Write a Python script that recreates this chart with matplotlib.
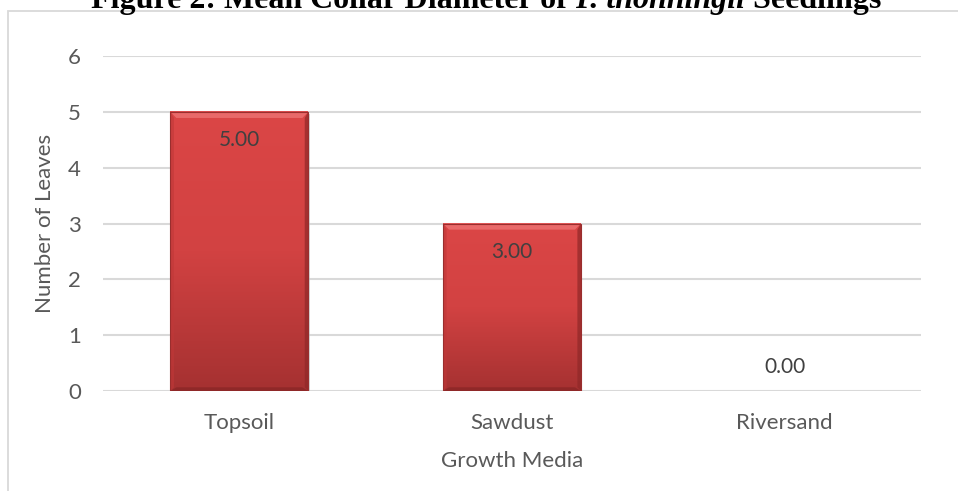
#!/usr/bin/env python3
"""Bar chart of mean leaf number of P. thonningii seedlings per growth medium."""

import matplotlib.pyplot as plt
import numpy as np
from matplotlib.colors import LinearSegmentedColormap
from matplotlib.patches import Polygon, Rectangle

media = ["Topsoil", "Sawdust", "Riversand"]
leaves = [5.00, 3.00, 0.00]
y_ticks = [0, 1, 2, 3, 4, 5, 6]

GRID = "#d9d9d9"
TICK = "#595959"
LABEL = "#404040"
BAR_W = 0.506

plt.rcParams["font.family"] = ["Lato", "DejaVu Sans"]

fig = plt.figure(figsize=(9.58, 4.91), dpi=100)
ax = fig.add_axes([103 / 958, 100 / 491, 818 / 958, 335 / 491])

# chart frame: only its top and left edge fall on the page
fig.patches.append(Rectangle((8 / 958, -0.5), 2.0, 0.5 + 1 - 11 / 491,
                             transform=fig.transFigure, fill=False,
                             edgecolor=GRID, linewidth=1.3))

x = np.arange(len(media))
ax.set_yticks(y_ticks)
ax.set_xticks(x)
ax.set_xticklabels(media)
ax.grid(axis="y", color=GRID, linewidth=1.5, zorder=0)
ax.set_axisbelow(True)
for s in ax.spines.values():
    s.set_visible(False)
ax.tick_params(length=0, labelsize=16, labelcolor=TICK)
ax.tick_params(axis="y", pad=16)
ax.tick_params(axis="x", pad=15.5)
ax.set_xlabel("Growth Media", fontsize=16, color=TICK, labelpad=13)
ax.set_ylabel("Number of Leaves", fontsize=16, color=TICK, labelpad=9)

red = LinearSegmentedColormap.from_list("bar", ["#a53131", "#d24242", "#db4646"])
grad = np.linspace(0, 1, 256).reshape(-1, 1)

# bevel size in data units
bx = 0.022
by = 0.11

for xi, v in zip(x, leaves):
    if v > 0:
        x0, x1 = xi - BAR_W / 2, xi + BAR_W / 2
        # soft shadow
        ax.add_patch(Rectangle((x0 + 0.005, -0.035), BAR_W, v, color="#bbbbbb",
                               alpha=0.6, zorder=2, linewidth=0))
        ax.imshow(grad, extent=(x0, x1, 0, v), origin="lower", cmap=red,
                  aspect="auto", zorder=3)
        # bevel edges
        ax.add_patch(Polygon([(x0, v), (x1, v), (x1 - bx, v - by), (x0 + bx, v - by)],
                             closed=True, color="#ec7070", alpha=0.85, zorder=4, lw=0))
        ax.add_patch(Polygon([(x0, 0), (x1, 0), (x1 - bx, by * 0.6), (x0 + bx, by * 0.6)],
                             closed=True, color="#8a2626", alpha=0.8, zorder=4, lw=0))
        ax.add_patch(Polygon([(x1, 0), (x1, v), (x1 - bx * 0.6, v - by), (x1 - bx * 0.6, by * 0.6)],
                             closed=True, color="#8f2828", alpha=0.7, zorder=4, lw=0))
        ax.add_patch(Polygon([(x0, 0), (x0, v), (x0 + bx * 0.6, v - by), (x0 + bx * 0.6, by * 0.6)],
                             closed=True, color="#c03838", alpha=0.6, zorder=4, lw=0))
        ax.add_patch(Rectangle((x0, 0), BAR_W, v, fill=False, edgecolor="#9a2e2e",
                               linewidth=0.8, zorder=5))
        ax.annotate(f"{v:.2f}", (xi, v), xytext=(0, -20.5), textcoords="offset points",
                    ha="center", va="center", fontsize=15, color=LABEL, zorder=6)
    else:
        ax.annotate(f"{v:.2f}", (xi, v), xytext=(0, 17.5), textcoords="offset points",
                    ha="center", va="center", fontsize=15, color=LABEL, zorder=6)
ax.set_xlim(-0.5, len(media) - 0.5)
ax.set_ylim(y_ticks[0], y_ticks[-1])

# title runs off the top of the page; bold with the species name in bold italic
serif = ["Liberation Serif", "DejaVu Serif"]
pieces = [("Figure 2: Mean Collar Diameter of ", "normal"),
          ("P. thonningii", "italic"),
          (" Seedlings", "normal")]
fig.canvas.draw()
r = fig.canvas.get_renderer()
tmp = [fig.text(0, 0, t, family=serif, weight="bold", style=st, fontsize=23)
       for t, st in pieces]
widths = [t.get_window_extent(r).width for t in tmp]
for t in tmp:
    t.remove()
xpos = 486 - sum(widths) / 2
for (t, st), w in zip(pieces, widths):
    fig.text(xpos / 958, 1 - 8 / 491, t, family=serif, weight="bold", style=st,
             fontsize=23, ha="left", va="baseline")
    xpos += w

fig.savefig("out.png", dpi=100)
